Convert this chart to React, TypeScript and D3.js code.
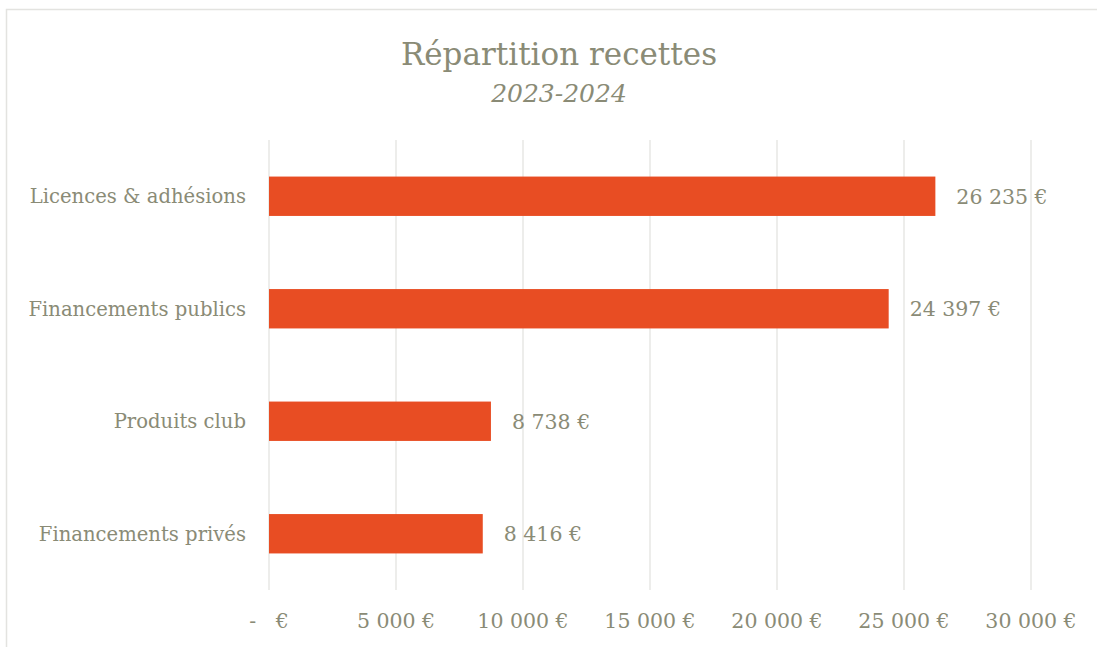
import React from "react";
import * as d3 from "d3";

const categories = ["Licences & adhésions", "Financements publics", "Produits club", "Financements privés"];
const values = [26235, 24397, 8738, 8416];
const ticks = [0, 5000, 10000, 15000, 20000, 25000, 30000];

const W = 1097, H = 647;
const TEXT = "#8A8B76";
const BAR = "#E84D23";
const GRID = "#E3E3E0";
const FONT = "'DejaVu Serif', serif";

const fmt = (v: number) => {
  if (v === 0) return "-   €";
  return d3.format(",")(v).replace(/,/g, " ") + " €";
};

export default function App() {
  const x = d3.scaleLinear().domain([0, 30000]).range([269, 1031]);
  const y = d3.scaleBand().domain(categories).range([140, 590]).paddingInner(0.65).paddingOuter(0.325);
  return (
    <svg width={W} height={H} style={{ position: "absolute", left: 0, top: 0, background: "#fff" }}>
      <rect x={6.5} y={9.5} width={W + 10} height={H + 10} fill="#fff" stroke="#E3E3E0" strokeWidth={1.5} />
      {ticks.map((t) => (
        <g key={t}>
          <line x1={x(t)} x2={x(t)} y1={140} y2={590} stroke={GRID} strokeWidth={1.3} />
          <text x={x(t)} y={628} textAnchor="middle" fontFamily={FONT} fontSize={20.5} fill={TEXT} style={{ whiteSpace: "pre" }}>
            {fmt(t)}
          </text>
        </g>
      ))}
      {categories.map((c, i) => (
        <g key={c}>
          <rect x={x(0)} y={y(c)!} width={x(values[i]) - x(0)} height={y.bandwidth()} fill={BAR} />
          <text x={246} y={y(c)! + y.bandwidth() / 2 + 7} textAnchor="end" fontFamily={FONT} fontSize={19.6} fill={TEXT}>
            {c}
          </text>
          <text x={x(values[i]) + 21} y={y(c)! + y.bandwidth() / 2 + 7.5} fontFamily={FONT} fontSize={20.5} fill={TEXT}>
            {fmt(values[i])}
          </text>
        </g>
      ))}
      <text x={559} y={65} textAnchor="middle" fontFamily={FONT} fontSize={31} fill={TEXT}>
        Répartition recettes
      </text>
      <text x={559} y={102} textAnchor="middle" fontFamily={FONT} fontSize={25} fontStyle="italic" fill={TEXT}>
        2023-2024
      </text>
    </svg>
  );
}
